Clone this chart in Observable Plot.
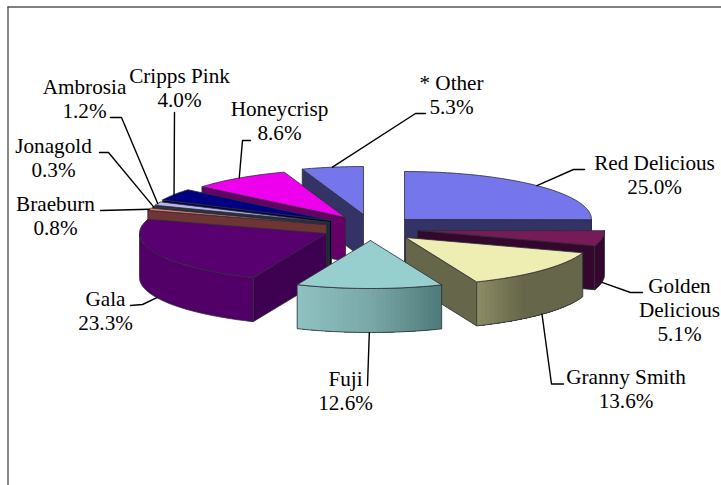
<!DOCTYPE html>
<html>
<head>
<meta charset="utf-8">
<style>html,body{margin:0;padding:0;background:#fff}svg{display:block}</style>
<script src="https://cdn.jsdelivr.net/npm/d3@7"></script>
<script src="https://cdn.jsdelivr.net/npm/@observablehq/plot@0.6"></script>
</head>
<body>
<div id="chart"></div>
<script>
// Values, in pie order (clockwise from 12 o'clock)
const names = ["Red Delicious","Golden\nDelicious","Granny Smith","Fuji","Gala","Braeburn","Jonagold","Ambrosia","Cripps Pink","Honeycrisp","* Other"];
const shares = [25.0,5.1,13.6,12.6,23.3,0.8,0.3,1.2,4.0,8.6,5.3];

// Colours per slice
const topColors = ["#7676ec","#771a58","#eeeeb2","#97cfcf","#590070","#e27d6c","#3c6470","#b6b6ea","#000080","#ee00ee","#7676ec"];
const cutColors = ["#333366","#33082c","#66664a","#4f7a7a","#3e0050","#6f3535","#1c2a30","#1c2230","#00003c","#660066","#333366"];
const wallColors = [["#333366"],["#33082c"],["#66664a","#66664a","#66664a","#8c8c66"],["#4f7a7a","#7aa8a8","#90c2c2"],["#520068"],["#6f3535"],["#1c2a30"],["#1c2230"],["#00003c"],["#660066"],["#333366"]];

// Layout: where each exploded slice's centre sits, and its label
const centerX = [404,417,405,370,326,326,328,329,331,345,363];
const centerY = [219,230,237,240,233,224,223,222,220,217,214];
const labelX = [654,679,625.5,345,105,55,53,84,179,279,451];
const labelY = [173.5,308.5,387.5,389.5,309.5,214.5,156.5,97.5,87,119.5,94];
const elbowX = [573,630,551,367,142,100,108,121,174,242,415];
const elbowY = [169,292,383.5,385,304,210,152,117,112,140,113];
const tailX = [584,642,563,367,130,100,99,110,174,250,425];
const tailY = [169,292,383.5,385,305,210,152,117,112,140,113];
const rx = 187, ry = 48, depth = 44;
const paintOrder = [0,10,9,8,7,6,5,4,1,2,3];
const outline = "#2c2c3a";

const rad = d => d * Math.PI / 180;
const cum = d3.cumsum(shares);
const total = d3.sum(shares);
const slices = names.map((name,i) => ({
  i, name, share: shares[i],
  a: (i ? cum[i-1] : 0) / total * 360,
  b: cum[i] / total * 360,
  cx: centerX[i], cy: centerY[i]
}));
const rim = (s, deg, drop = 0) => [s.cx + rx * Math.sin(rad(deg)), s.cy - ry * Math.cos(rad(deg)) + drop];

const rows = [];
let pid = 0;
function piece(pts, fill, stroke) {
  const id = pid++;
  [...pts, pts[0]].forEach(([x,y]) => rows.push({x, y, id, fill, stroke}));
}
function arc(s, from, to) {
  const n = Math.max(2, Math.ceil((to - from) / 1.5));
  return d3.range(n + 1).map(k => from + (to - from) * k / n);
}
for (const idx of paintOrder) {
  const s = slices[idx];
  const base = [s.cx, s.cy], baseLow = [s.cx, s.cy + depth];
  // cut faces that look towards the viewer
  for (const [edge, normal] of [[s.a, s.a - 90],[s.b, s.b + 90]]) {
    if (Math.cos(rad(normal)) < -1e-6) {
      piece([base, rim(s, edge), rim(s, edge, depth), baseLow], cutColors[idx], outline);
    }
  }
  // outer wall: only its front half is visible
  const from = Math.max(s.a, 90), to = Math.min(s.b, 270);
  if (to > from) {
    const angles = arc(s, from, to);
    const band = t => [...t.map(u => rim(s,u)), ...t.slice().reverse().map(u => rim(s,u,depth))];
    if (wallColors[idx].length > 1) {
      // each band paints over the rest of the wall, so no seams show
      const ramp = d3.piecewise(d3.interpolateRgb, wallColors[idx]);
      angles.slice(0,-1).forEach((_, k) => {
        piece(band(angles.slice(k)), ramp((k + .5) / (angles.length - 1)), "none");
      });
      piece(band(angles), "none", outline);
    } else {
      piece(band(angles), wallColors[idx][0], outline);
    }
  }
  // top
  piece([base, ...arc(s, s.a, s.b).map(t => rim(s,t))], topColors[idx], outline);
}

const leaders = slices.flatMap(s => {
  const mid = (s.a + s.b) / 2;
  const start = rim(s, mid, Math.cos(rad(mid)) < 0 ? depth : 0);
  return [start, [elbowX[s.i], elbowY[s.i]], [tailX[s.i], tailY[s.i]]].map(([x,y]) => ({x, y, id: s.i}));
});
const labels = slices.map(s => ({x: labelX[s.i], y: labelY[s.i], text: `${s.name}\n${s.share.toFixed(1)}%`}));

const chart = Plot.plot({
  width: 721, height: 485,
  marginTop: 0, marginRight: 0, marginBottom: 0, marginLeft: 0,
  x: {domain: [0,721], range: [0,721], axis: null},
  y: {domain: [0,485], range: [0,485], axis: null},
  color: {type: "identity"},
  marks: [
    Plot.ruleX([7.5], {y1: 6.5, y2: 485, stroke: "#555", strokeWidth: 1.4}),
    Plot.ruleY([6.5], {x1: 7.5, x2: 721, stroke: "#555", strokeWidth: 1.4}),
    Plot.line(rows, {x: "x", y: "y", z: "id", fill: d => d.fill, stroke: d => d.stroke, strokeWidth: 0.8, curve: "linear"}),
    Plot.line(leaders, {x: "x", y: "y", z: "id", stroke: "#000", strokeWidth: 1.4}),
    Plot.text(labels, {x: "x", y: "y", text: "text", fontFamily: "Liberation Serif", fontSize: 21.2, lineHeight: 1.14, lineAnchor: "middle", textAnchor: "middle", fill: "#000"})
  ]
});
document.getElementById("chart").appendChild(chart);
</script>
</body>
</html>
